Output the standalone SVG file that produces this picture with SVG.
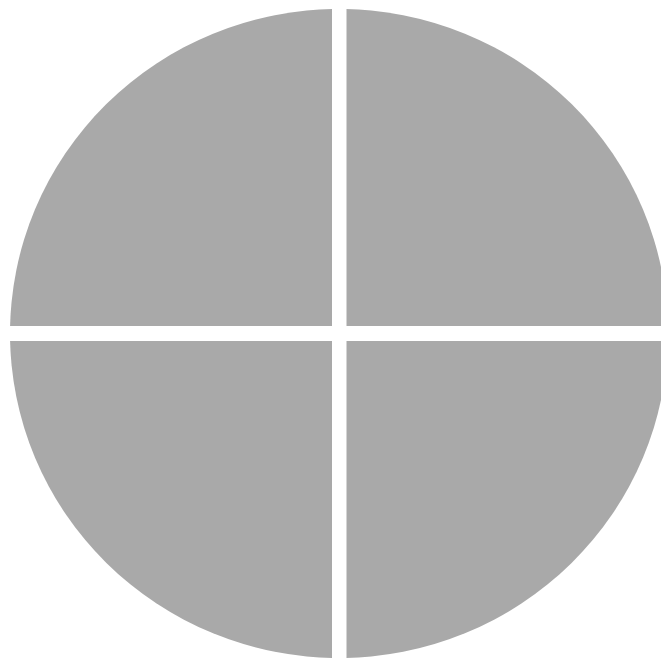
<svg xmlns="http://www.w3.org/2000/svg" width="661" height="661" viewBox="0 0 661 661">
<style>.q{fill:#a9a9a9;}</style>
<defs>
<ellipse id="disc" cx="339" cy="333.5" rx="329" ry="324.5"/>
<clipPath id="tl"><rect x="0" y="0" width="332" height="326"/></clipPath>
<clipPath id="tr"><rect x="346.5" y="0" width="320" height="326"/></clipPath>
<clipPath id="bl"><rect x="0" y="341" width="332" height="330"/></clipPath>
<clipPath id="br"><rect x="346.5" y="341" width="320" height="330"/></clipPath>
</defs>
<rect width="661" height="661" fill="#ffffff"/>
<g id="quadrant-top-left"><use href="#disc" class="q" clip-path="url(#tl)"/></g>
<g id="quadrant-top-right"><use href="#disc" class="q" clip-path="url(#tr)"/></g>
<g id="quadrant-bottom-left"><use href="#disc" class="q" clip-path="url(#bl)"/></g>
<g id="quadrant-bottom-right"><use href="#disc" class="q" clip-path="url(#br)"/></g>
</svg>
